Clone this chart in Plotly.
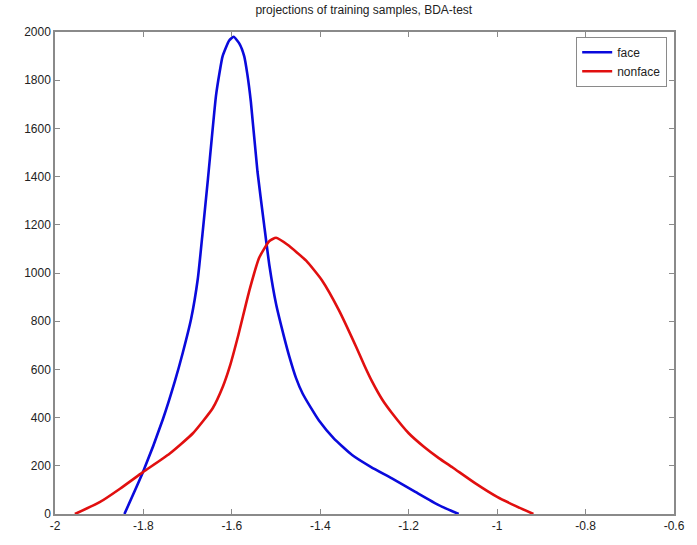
import plotly.graph_objects as go

face_x = [-1.843, -1.801, -1.756, -1.729, -1.711, -1.692, -1.677, -1.666, -1.654, -1.636,
          -1.628, -1.621, -1.606, -1.596, -1.583, -1.572, -1.565, -1.557, -1.542, -1.527,
          -1.515, -1.500, -1.482, -1.470, -1.455, -1.440, -1.420, -1.403, -1.370, -1.328,
          -1.285, -1.238, -1.185, -1.132, -1.087]
face_y = [0, 174, 393, 550, 669, 811, 976, 1170, 1392, 1734,
          1830, 1899, 1965, 1980, 1952, 1899, 1825, 1710, 1420, 1200,
          1030, 871, 735, 653, 565, 500, 437, 388, 315, 245,
          195, 148, 92, 37, 0]

nonface_x = [-1.955, -1.899, -1.853, -1.801, -1.741, -1.688, -1.643, -1.620, -1.605, -1.585,
             -1.560, -1.538, -1.515, -1.500, -1.474, -1.432, -1.396, -1.358, -1.319, -1.300,
             -1.283, -1.260, -1.238, -1.200, -1.165, -1.132, -1.100, -1.050, -1.000, -0.960,
             -0.918]
nonface_y = [0, 49, 105, 174, 250, 335, 440, 530, 610, 745,
             930, 1064, 1133, 1146, 1117, 1051, 969, 846, 694, 615,
             550, 475, 419, 335, 278, 232, 192, 128, 71, 35,
             0]

x_ticks = [-2, -1.8, -1.6, -1.4, -1.2, -1, -0.8, -0.6]
x_tick_labels = ["-2", "-1.8", "-1.6", "-1.4", "-1.2", "-1", "-0.8", "-0.6"]
y_ticks = [0, 200, 400, 600, 800, 1000, 1200, 1400, 1600, 1800, 2000]

fig = go.Figure()
fig.add_trace(go.Scatter(x=face_x, y=face_y, mode="lines", name="face",
                         line=dict(color="rgb(10,10,220)", width=2.6, shape="spline", smoothing=0.5)))
fig.add_trace(go.Scatter(x=nonface_x, y=nonface_y, mode="lines", name="nonface",
                         line=dict(color="rgb(225,15,15)", width=2.6, shape="spline", smoothing=0.5)))

axis_common = dict(showgrid=False, zeroline=False, showline=True, linecolor="#8a8a8a", linewidth=1.5,
                   mirror="ticks", ticks="inside", ticklen=5, tickcolor="#8a8a8a",
                   tickfont=dict(family="Liberation Sans, Arial", size=12, color="#222"))

fig.update_xaxes(range=[-2, -0.6], tickvals=x_ticks, ticktext=x_tick_labels, **axis_common)
fig.update_yaxes(range=[0, 2000], tickvals=y_ticks, **axis_common)

fig.update_layout(
    width=697, height=545,
    margin=dict(l=55, r=21, t=32, b=26),
    paper_bgcolor="white", plot_bgcolor="white",
    title=dict(text="projections of training samples, BDA-test", x=0.522, xanchor="center",
               y=0.982, yanchor="middle",
               font=dict(family="Liberation Sans, Arial", size=12, color="#222")),
    legend=dict(x=0.989, y=0.99, xanchor="right", yanchor="top",
                bordercolor="#8a8a8a", borderwidth=1, bgcolor="white",
                font=dict(family="Liberation Sans, Arial", size=12, color="#222"),
                tracegroupgap=0, itemwidth=30),
    showlegend=True,
)

fig.write_html("out.html")
